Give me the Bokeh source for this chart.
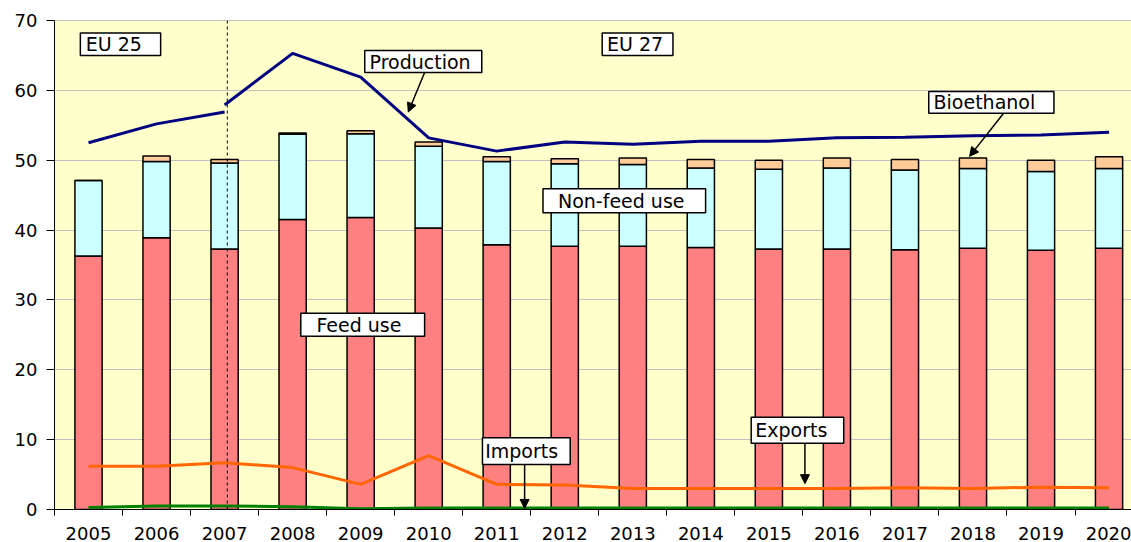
from bokeh.plotting import figure
from bokeh.models import (FixedTicker, Span, BoxAnnotation,
                          Label, Arrow, NormalHead, ColumnDataSource)
from bokeh.embed import file_html
from bokeh.resources import INLINE

# ---------------- data ----------------
years = [str(y) for y in range(2005, 2021)]
feed_use = [36.3, 38.9, 37.3, 41.5, 41.8, 40.3, 37.9, 37.7, 37.7, 37.5, 37.3, 37.3, 37.2, 37.4, 37.1, 37.4]
non_feed_use = [10.8, 10.9, 12.3, 12.2, 12.0, 11.7, 11.9, 11.8, 11.7, 11.4, 11.4, 11.6, 11.4, 11.4, 11.3, 11.4]
bioethanol = [0.0, 0.8, 0.5, 0.2, 0.4, 0.6, 0.7, 0.7, 0.9, 1.2, 1.3, 1.4, 1.5, 1.5, 1.6, 1.7]
production_eu25 = [52.5, 55.2, 56.9]                      # 2005-2007
production_eu27 = [57.9, 65.3, 61.9, 53.2, 51.3, 52.6, 52.3, 52.7,
                   52.7, 53.2, 53.3, 53.5, 53.6, 54.0]    # 2007-2020
exports = [6.2, 6.2, 6.7, 6.0, 3.6, 7.7, 3.6, 3.5, 3.0, 3.0, 3.0, 3.0, 3.1, 3.0, 3.2, 3.1]
imports = [0.3, 0.5, 0.5, 0.4, 0.1, 0.2, 0.2, 0.2, 0.2, 0.2, 0.2, 0.2, 0.2, 0.2, 0.2, 0.2]
y_ticks = [0, 10, 20, 30, 40, 50, 60, 70]

# ---------------- layout ----------------
n = len(years)
xc = [i + 0.5 for i in range(n)]
FONT = "DejaVu Sans"

src = ColumnDataSource(dict(x=xc, feed=feed_use, nonfeed=non_feed_use, bio=bioethanol))

p = figure(width=1131, height=542, x_range=(0, 15.83), y_range=(0, 70),
           output_backend="svg", toolbar_location=None,
           min_border_left=54, min_border_right=0, min_border_top=20, min_border_bottom=33,
           background_fill_color="#FFFFCC", border_fill_color="white",
           outline_line_color=None)

# axes
p.xaxis.ticker = FixedTicker(ticks=xc, minor_ticks=list(range(n + 1)))
p.xaxis.major_label_overrides = {x: y for x, y in zip(xc, years)}
p.xaxis.major_tick_out = 0
p.xaxis.major_tick_in = 0
p.xaxis.minor_tick_out = 6
p.xaxis.minor_tick_in = 0
p.xaxis.minor_tick_line_color = "black"
p.xaxis.major_label_standoff = 11

p.yaxis.ticker = FixedTicker(ticks=y_ticks)
p.yaxis.major_tick_out = 8
p.yaxis.major_tick_in = 0
p.yaxis.major_label_standoff = 9

for ax in (p.xaxis[0], p.yaxis[0]):
    ax.axis_line_color = "black"
    ax.axis_line_width = 1
    ax.major_tick_line_color = "black"
    ax.major_label_text_font = FONT
    ax.major_label_text_font_size = "18px"
    ax.major_label_text_color = "black"

p.xgrid.grid_line_color = None
p.ygrid.grid_line_color = "#C0C0C0"
p.ygrid.grid_line_width = 1

# top border of plot area
p.add_layout(Span(location=70, dimension="width", line_color="#808080", line_width=1))

# stacked bars
p.vbar_stack(["feed", "nonfeed", "bio"], x="x", width=0.4, source=src,
             fill_color=["#FF8080", "#CCFFFF", "#FFCC99"],
             line_color="black", line_width=1.5)

# lines
p.line(xc[:3], production_eu25, line_color="#000080", line_width=3)
p.line(xc[2:], production_eu27, line_color="#000080", line_width=3)
p.line(xc, exports, line_color="#FF6600", line_width=3)
p.line(xc, imports, line_color="#008000", line_width=3)

# EU25 / EU27 split
p.add_layout(Span(location=2.54, dimension="height", line_color="black",
                  line_width=1, line_dash="3 3"))

# text boxes
boxes = [
    # text, box left, right, bottom, top, text x, text y
    ("EU 25", 0.38, 1.56, 65.0, 68.2, 0.46, 66.6),
    ("EU 27", 8.05, 9.09, 65.0, 68.2, 8.12, 66.6),
    ("Production", 4.56, 6.28, 62.55, 65.7, 4.63, 64.1),
    ("Bioethanol", 12.85, 14.69, 56.73, 59.83, 12.92, 58.3),
    ("Non-feed use", 7.18, 9.57, 42.47, 45.91, 7.40, 44.2),
    ("Feed use", 3.62, 5.44, 24.81, 28.1, 3.85, 26.45),
    ("Imports", 6.29, 7.58, 6.44, 10.26, 6.33, 8.4),
    ("Exports", 10.24, 11.6, 9.49, 13.21, 10.30, 11.4),
]
for t, l, r, b, tp, tx, ty in boxes:
    p.add_layout(BoxAnnotation(left=l, right=r, bottom=b, top=tp, fill_color="white",
                               fill_alpha=1, line_color="black", line_width=1.5, line_alpha=1))
    p.add_layout(Label(x=tx, y=ty, text=t, text_font=FONT, text_font_size="19px",
                       text_color="black", text_align="left", text_baseline="middle"))

# arrows
arrows = [
    (5.44, 62.55, 5.20, 56.9),
    (13.95, 56.73, 13.45, 50.55),
    (6.91, 6.44, 6.91, 0.15),
    (11.03, 9.49, 11.03, 3.7),
]
for xs, ys, xe, ye in arrows:
    p.add_layout(Arrow(end=NormalHead(size=9, fill_color="black", line_color="black"),
                       x_start=xs, y_start=ys, x_end=xe, y_end=ye,
                       line_color="black", line_width=1.5))

open("out.html", "w").write(file_html(p, INLINE))
